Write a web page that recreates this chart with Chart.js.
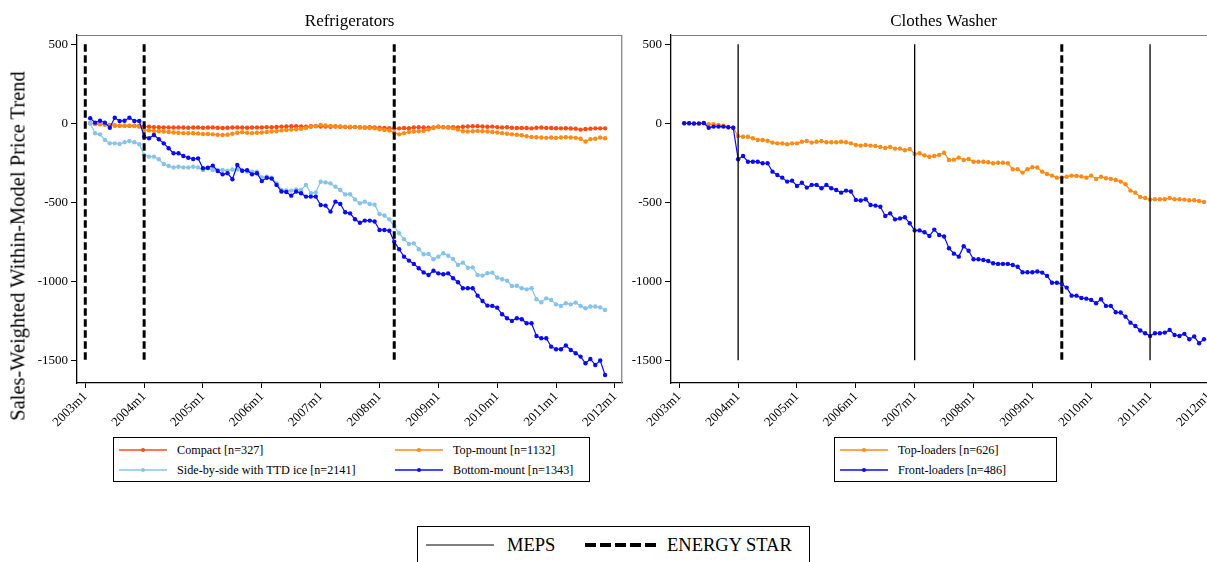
<!DOCTYPE html>
<html><head><meta charset="utf-8">
<script src="https://cdn.jsdelivr.net/npm/chart.js@4"></script>
<style>
html,body{margin:0;padding:0;background:#fff;}
#wrap{position:relative;width:1207px;height:562px;overflow:hidden;font-family:'Liberation Serif','Times New Roman',serif;color:#000;}
canvas{position:absolute;top:0;}
.ytitle{position:absolute;left:18px;top:246px;transform:translate(-50%,-50%) rotate(-90deg);white-space:nowrap;font-size:20.5px;}
.legend{position:absolute;border:1px solid #000;box-sizing:border-box;background:#fff;}
.txt{position:absolute;white-space:nowrap;}
svg{position:absolute;overflow:visible;}
</style></head>
<body>
<div id="wrap">
  <canvas id="c1" width="627" height="430" style="left:0px"></canvas>
  <canvas id="c2" width="627" height="430" style="left:594px"></canvas>
  <div class="ytitle">Sales-Weighted Within-Model Price Trend</div>
  <div id="leg1" class="legend" style="left:113px;top:437px;width:477px;height:45px"></div>
  <div id="leg2" class="legend" style="left:834px;top:437px;width:223px;height:45px"></div>
  <div id="leg3" class="legend" style="left:417px;top:526px;width:393px;height:60px"></div>
</div>
<script>
// ---------- DATA ----------
const startMonth = 1;                    // first observation = 2003m2 (months since 2003m1)
const tickMonths = [0, 12, 24, 36, 48, 60, 72, 84, 96, 108];
const tickLabels = ['2003m1','2004m1','2005m1','2006m1','2007m1','2008m1','2009m1','2010m1','2011m1','2012m1'];
const yTicks = [500, 0, -500, -1000, -1500];
const eventSpan = [500, -1500];

// Refrigerators
const compact = [0,-3,-5,-8,-10,-14,-15,-15,-16,-16,-17,
 -20,-22,-24,-25,-26,-26,-27,-26,-27,-28,-27,-26,
 -28,-27,-26,-28,-30,-28,-27,-26,-27,-28,-27,-26,
 -26,-24,-25,-23,-21,-20,-19,-18,-20,-21,-19,-18,
 -20,-21,-22,-20,-22,-24,-25,-23,-25,-26,-24,-27,
 -28,-30,-31,-33,-32,-30,-31,-26,-25,-27,-28,-26,
 -22,-24,-25,-24,-26,-22,-20,-19,-18,-20,-22,-21,
 -24,-26,-25,-28,-30,-29,-30,-32,-28,-27,-29,-30,
 -31,-32,-31,-33,-34,-40,-36,-34,-32,-32,-32];
const topMount = [0,-4,-6,-8,-12,-14,-16,-16,-15,-17,-20,
 -42,-45,-48,-50,-52,-55,-58,-60,-62,-63,-63,-65,
 -68,-68,-70,-72,-74,-72,-66,-60,-56,-60,-62,-60,
 -58,-55,-52,-50,-45,-42,-40,-38,-35,-30,-22,-18,
 -10,-14,-16,-18,-20,-22,-22,-24,-26,-28,-30,-32,
 -38,-42,-45,-60,-70,-62,-55,-52,-50,-48,-40,-30,
 -22,-26,-28,-32,-40,-50,-52,-50,-48,-50,-52,-55,
 -58,-62,-66,-70,-72,-76,-82,-86,-88,-90,-92,-90,
 -92,-90,-88,-90,-92,-98,-115,-100,-98,-90,-95];
const sideBySide = [0,-63,-70,-106,-127,-127,-131,-120,-112,-120,-133,
 -201,-211,-211,-228,-258,-270,-279,-275,-279,-279,-275,-279,
 -296,-285,-296,-296,-296,-300,-292,-292,-300,-306,-306,-306,
 -342,-338,-344,-380,-422,-425,-426,-418,-422,-390,-443,-437,
 -370,-374,-380,-401,-422,-450,-449,-482,-506,-496,-511,-515,
 -574,-584,-608,-654,-696,-734,-764,-760,-797,-829,-827,-861,
 -844,-823,-838,-859,-897,-882,-914,-912,-960,-964,-949,-945,
 -977,-987,-996,-1030,-1028,-1044,-1051,-1044,-1114,-1133,-1108,-1118,
 -1146,-1156,-1139,-1146,-1135,-1156,-1171,-1160,-1160,-1165,-1182];
const bottomMount = [32,4,16,4,-28,35,15,16,35,15,15,
 -85,-95,-74,-101,-127,-158,-190,-190,-207,-218,-226,-222,
 -285,-281,-268,-302,-323,-316,-354,-264,-300,-297,-323,-316,
 -366,-345,-350,-390,-432,-435,-458,-432,-443,-464,-464,-464,
 -517,-521,-559,-496,-511,-563,-570,-607,-630,-616,-616,-622,
 -675,-675,-680,-749,-797,-844,-869,-890,-918,-944,-960,-933,
 -950,-956,-950,-981,-1006,-1044,-1044,-1044,-1091,-1125,-1154,-1156,
 -1167,-1209,-1234,-1251,-1234,-1240,-1266,-1266,-1346,-1361,-1361,-1414,
 -1430,-1430,-1407,-1435,-1456,-1477,-1519,-1492,-1530,-1502,-1593];
const fridgeEnergyStar = [0, 12, 63];
const fridgeMeps = [];

// Clothes washers
const topLoaders = [0,0,0,0,0,-6,-6,-11,-15,-25,-28,
 -81,-85,-85,-95,-106,-106,-110,-122,-127,-127,-133,-127,
 -127,-117,-112,-122,-117,-112,-120,-120,-120,-117,-120,-127,
 -137,-141,-137,-141,-143,-150,-156,-150,-160,-160,-171,-162,
 -194,-190,-203,-212,-207,-200,-186,-232,-230,-217,-232,-226,
 -243,-243,-243,-247,-253,-250,-250,-253,-291,-291,-312,-291,
 -278,-280,-306,-321,-331,-344,-342,-338,-331,-333,-336,-344,
 -331,-352,-338,-348,-352,-359,-369,-386,-426,-439,-466,-473,
 -483,-481,-481,-481,-473,-481,-481,-483,-487,-487,-492,-498];
const frontLoaders = [0,0,-2,-2,2,-28,-21,-21,-21,-25,-28,
 -228,-207,-243,-243,-243,-253,-253,-306,-327,-344,-369,-363,
 -397,-376,-407,-390,-390,-411,-390,-411,-422,-439,-426,-432,
 -485,-489,-481,-517,-521,-528,-587,-570,-608,-602,-595,-633,
 -678,-678,-690,-713,-673,-707,-717,-791,-825,-844,-778,-807,
 -861,-861,-865,-872,-886,-890,-890,-890,-897,-908,-943,-943,
 -943,-938,-945,-966,-1009,-1009,-1017,-1040,-1091,-1091,-1106,-1110,
 -1118,-1139,-1114,-1156,-1156,-1196,-1198,-1224,-1262,-1283,-1312,-1329,
 -1346,-1329,-1329,-1325,-1308,-1340,-1346,-1333,-1367,-1350,-1392,-1367];
const washerEnergyStar = [78];
const washerMeps = [12, 48, 96];

const fridgeNames = ['Compact [n=327]','Top-mount [n=1132]','Side-by-side with TTD ice [n=2141]','Bottom-mount [n=1343]'];
const washerNames = ['Top-loaders [n=626]','Front-loaders [n=486]'];

// ---------- STYLE ----------
const C_RED = '#ff4a10', C_ORANGE = '#ff8a14', C_LTBLUE = '#86c3ec', C_BLUE = '#0a0af8';
const FONT = "'Liberation Serif','Times New Roman',serif";
Chart.defaults.font.family = FONT;
Chart.defaults.color = '#000';

const xMin = -1.69, xMax = 109.5, yMin = -1644, yMax = 559;

const frame = {
  id: 'frame',
  afterDraw(c) {
    const {ctx, chartArea: a} = c;
    ctx.save();
    ctx.strokeStyle = '#7d7d7d';
    ctx.lineWidth = 1.2;
    ctx.beginPath();
    ctx.moveTo(a.left, a.top + 0.5);
    ctx.lineTo(a.right - 0.5, a.top + 0.5);
    ctx.lineTo(a.right - 0.5, a.bottom);
    ctx.stroke();
    ctx.restore();
  }
};

function refLine(m, dashed) {
  return {
    data: eventSpan.map(y => ({x: m, y: y})),
    borderColor: '#000', borderWidth: dashed ? 3 : 1.3,
    borderDash: dashed ? [7.5, 3.5] : [],
    pointRadius: 0, pointHoverRadius: 0, order: 0, fill: false
  };
}

function makeChart(id, title, series, esLines, mepsLines) {
  const datasets = [];
  esLines.forEach(m => datasets.push(refLine(m, true)));
  mepsLines.forEach(m => datasets.push(refLine(m, false)));
  series.forEach((s, i) => datasets.push({
    label: s.name,
    data: s.values.map((v, k) => ({x: startMonth + k, y: v})),
    borderColor: s.color, backgroundColor: s.color,
    borderWidth: 1.2, pointRadius: 2.2, pointBorderWidth: 0, pointHoverRadius: 0,
    order: series.length - i + 1, fill: false, tension: 0
  }));
  return new Chart(document.getElementById(id), {
    type: 'line',
    data: {datasets},
    options: {
      responsive: false, animation: false, events: [],
      layout: {padding: {top: 0, right: 3, bottom: 0, left: 0}},
      plugins: {
        legend: {display: false}, tooltip: {enabled: false},
        title: {display: true, text: title, fullSize: false, color: '#000',
                font: {size: 17, weight: 'normal', family: FONT},
                padding: {top: 11.6, bottom: 3}}
      },
      scales: {
        x: {
          type: 'linear', min: xMin, max: xMax,
          afterBuildTicks: s => { s.ticks = tickMonths.map(v => ({value: v})); },
          afterFit: s => { s.height = 47; },
          ticks: {autoSkip: false, minRotation: 45, maxRotation: 45, color: '#000',
                  font: {size: 13, family: FONT}, padding: 1,
                  callback: v => tickLabels[tickMonths.indexOf(v)]},
          grid: {drawOnChartArea: false, drawTicks: true, tickLength: 5, color: '#000', lineWidth: 1},
          border: {display: true, color: '#000', width: 1.3}
        },
        y: {
          type: 'linear', min: yMin, max: yMax,
          afterBuildTicks: s => { s.ticks = yTicks.map(v => ({value: v})); },
          afterFit: s => { s.width = 77; },
          ticks: {color: '#000', font: {size: 13, family: FONT}, padding: 3,
                  callback: v => String(v)},
          grid: {drawOnChartArea: false, drawTicks: true, tickLength: 6, color: '#000', lineWidth: 1},
          border: {display: true, color: '#000', width: 1.3}
        }
      }
    },
    plugins: [frame]
  });
}

makeChart('c1', 'Refrigerators', [
  {name: fridgeNames[0], values: compact, color: C_RED},
  {name: fridgeNames[1], values: topMount, color: C_ORANGE},
  {name: fridgeNames[2], values: sideBySide, color: C_LTBLUE},
  {name: fridgeNames[3], values: bottomMount, color: C_BLUE}
], fridgeEnergyStar, fridgeMeps);

makeChart('c2', 'Clothes Washer', [
  {name: washerNames[0], values: topLoaders, color: C_ORANGE},
  {name: washerNames[1], values: frontLoaders, color: C_BLUE}
], washerEnergyStar, washerMeps);

// ---------- LEGENDS ----------
function seriesItem(box, x, y, color, label) {
  const el = document.getElementById(box);
  el.insertAdjacentHTML('beforeend',
    `<svg style="left:${x}px;top:${y-5}px" width="48" height="10"><line x1="0" y1="5" x2="48" y2="5" stroke="${color}" stroke-width="1.3"/><circle cx="24" cy="5" r="2" fill="${color}"/></svg>` +
    `<div class="txt" style="left:${x+58}px;top:${y-8}px;font-size:12.2px;line-height:16px">${label}</div>`);
}
seriesItem('leg1', 5, 12, C_RED, fridgeNames[0]);
seriesItem('leg1', 281, 12, C_ORANGE, fridgeNames[1]);
seriesItem('leg1', 5, 31.5, C_LTBLUE, fridgeNames[2]);
seriesItem('leg1', 281, 31.5, C_BLUE, fridgeNames[3]);
seriesItem('leg2', 5, 12, C_ORANGE, washerNames[0]);
seriesItem('leg2', 5, 31.5, C_BLUE, washerNames[1]);

const l3 = document.getElementById('leg3');
l3.insertAdjacentHTML('beforeend',
  `<svg style="left:8px;top:13px" width="68" height="10"><line x1="0" y1="5" x2="68" y2="5" stroke="#000" stroke-width="1"/></svg>` +
  `<div class="txt" style="left:89px;top:7px;font-size:18.5px;line-height:22px">MEPS</div>` +
  `<svg style="left:167px;top:13px" width="72" height="10"><line x1="0" y1="5" x2="72" y2="5" stroke="#000" stroke-width="3.8" stroke-dasharray="11 4"/></svg>` +
  `<div class="txt" style="left:249px;top:7px;font-size:18.5px;line-height:22px">ENERGY STAR</div>`);
</script>
</body></html>
